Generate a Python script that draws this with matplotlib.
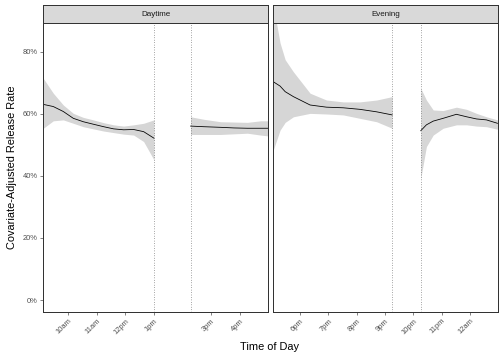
import numpy as np
import matplotlib
matplotlib.use("Agg")
import matplotlib.pyplot as plt
from matplotlib.ticker import PercentFormatter

plt.rcParams['font.family'] = ['Liberation Sans', 'DejaVu Sans']

# ------------------------------
# data (hours of day, percent)
# ------------------------------
day_a_hour = [9.13, 9.48, 9.83, 10.18, 10.53, 10.88, 11.24, 11.59, 11.94, 12.29, 12.64, 13.0]
day_a_fit = [63.1, 62.4, 60.8, 58.6, 57.5, 56.7, 55.9, 55.2, 54.9, 55.0, 54.3, 52.2]
day_a_hi = [71.5, 66.7, 62.9, 60.2, 58.9, 58.1, 57.2, 56.5, 56.1, 56.5, 57.0, 58.1]
day_a_lo = [55.4, 57.8, 58.1, 57.0, 55.9, 55.2, 54.5, 54.0, 53.5, 53.2, 51.1, 45.2]

day_b_hour = [14.28, 14.74, 15.33, 15.8, 16.27, 16.73, 17.02]
day_b_fit = [56.1, 55.9, 55.7, 55.5, 55.4, 55.4, 55.4]
day_b_hi = [59.1, 58.3, 57.5, 57.4, 57.3, 57.8, 57.8]
day_b_lo = [53.4, 53.4, 53.4, 53.6, 53.8, 53.2, 52.9]

eve_a_hour = [17.05, 17.29, 17.47, 17.76, 18.35, 18.93, 19.52, 20.11, 20.70, 21.25]
eve_a_fit = [70.4, 69.0, 67.2, 65.6, 62.9, 62.2, 62.0, 61.5, 60.7, 59.7]
eve_a_hi = [95.0, 82.9, 77.5, 73.6, 66.7, 64.5, 63.9, 63.9, 64.5, 65.6]
eve_a_lo = [48.4, 54.8, 57.3, 59.1, 60.2, 60.0, 59.7, 58.6, 57.5, 55.4]

eve_b_hour = [22.26, 22.46, 22.7, 23.05, 23.52, 23.88, 24.23, 24.58, 24.97]
eve_b_fit = [54.6, 56.5, 57.7, 58.6, 59.9, 59.1, 58.4, 58.1, 57.0]
eve_b_hi = [68.3, 64.5, 61.3, 61.1, 62.2, 61.5, 60.2, 59.1, 58.1]
eve_b_lo = [39.2, 49.5, 53.2, 55.4, 56.5, 56.5, 56.1, 55.9, 55.1]

day_breaks = [13.0, 14.28]
eve_breaks = [21.26, 22.26]

day_ticks = [10, 11, 12, 13, 15, 16]
day_labels = ['10am', '11am', '12pm', '1pm', '3pm', '4pm']
eve_ticks = [18, 19, 20, 21, 22, 23, 24]
eve_labels = ['6pm', '7pm', '8pm', '9pm', '10pm', '11pm', '12am']

y_ticks = [0, 20, 40, 60, 80]

# ------------------------------
# figure
# ------------------------------
fig = plt.figure(figsize=(7, 5), dpi=72)
W, H = 504, 360

def px_box(x0, x1, y_top, y_bot):
    return [x0 / W, 1 - y_bot / H, (x1 - x0) / W, (y_bot - y_top) / H]

panels = [
    ("Daytime", px_box(43.3, 268.3, 23, 312), (9.13, 17.0),
     [(day_a_hour, day_a_fit, day_a_hi, day_a_lo), (day_b_hour, day_b_fit, day_b_hi, day_b_lo)],
     day_breaks, day_ticks, day_labels),
    ("Evening", px_box(273.3, 498.3, 23, 312), (17.05, 25.0),
     [(eve_a_hour, eve_a_fit, eve_a_hi, eve_a_lo), (eve_b_hour, eve_b_fit, eve_b_hi, eve_b_lo)],
     eve_breaks, eve_ticks, eve_labels),
]

edge = '#333333'
for i, (title, box, xlim, segs, breaks, ticks, labels) in enumerate(panels):
    ax = fig.add_axes(box)
    for hr, fit, hi, lo in segs:
        ax.fill_between(hr, lo, hi, color='#D6D6D6', lw=0)
        ax.plot(hr, fit, color='black', lw=0.8)
    for b in breaks:
        ax.axvline(b, color='#555555', lw=0.7, ls=(0, (1, 2.5)))
    ax.set_xlim(*xlim)
    ax.set_ylim(-3.87, 89.35)
    ax.set_xticks(ticks)
    ax.set_xticklabels(labels, rotation=45, ha='right', va='top', rotation_mode='anchor')
    ax.set_yticks(y_ticks)
    ax.yaxis.set_major_formatter(PercentFormatter(decimals=0))
    ax.tick_params(length=3, width=0.6, color=edge, labelsize=7.5,
                   labelcolor='#4D4D4D', pad=2.5)
    if i == 1:
        ax.tick_params(axis='y', left=False, labelleft=False)
    for s in ax.spines.values():
        s.set_color(edge)
        s.set_linewidth(1.0)
    # strip
    sbox = px_box(box[0] * W, (box[0] + box[2]) * W, 5, 23)
    sax = fig.add_axes(sbox)
    sax.set_facecolor('#D9D9D9')
    sax.set_xticks([])
    sax.set_yticks([])
    for s in sax.spines.values():
        s.set_color(edge)
        s.set_linewidth(1.0)
    sax.text(0.5, 0.5, title, ha='center', va='center', fontsize=8, color='#1A1A1A',
             transform=sax.transAxes)

fig.text(270 / W, 1 - 347 / H, 'Time of Day', ha='center', va='center', fontsize=11)
fig.text(12 / W, 1 - 167 / H, 'Covariate-Adjusted Release Rate', ha='center', va='center',
         rotation=90, fontsize=11)

fig.savefig('out.png', dpi=72)
